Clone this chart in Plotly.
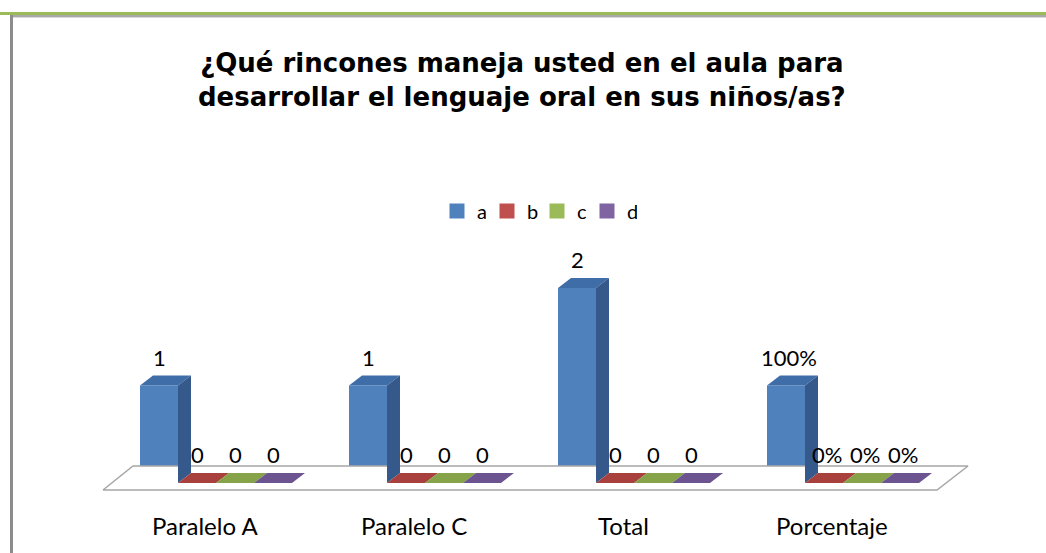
import plotly.graph_objects as go

# ---------------- data ----------------
categories = ["Paralelo A", "Paralelo C", "Total", "Porcentaje"]
series_names = ["a", "b", "c", "d"]
a_values = [1, 1, 2, 1]
b_values = [0, 0, 0, 0]
c_values = [0, 0, 0, 0]
d_values = [0, 0, 0, 0]
percent_category = "Porcentaje"

series_values = [a_values, b_values, c_values, d_values]

# ---------------- style ----------------
front_colors = ["#4F81BD", "#C0504D", "#9BBB59", "#8064A2"]
top_colors = ["#3E6DA8", "#A8403D", "#86A34A", "#6B5490"]
side_colors = ["#34598A", "#8E3533", "#708A3D", "#5A4679"]

W_PX, H_PX = 1046, 553
GROUP_PX = 209.0     # px per category
X0_PX = 140.0        # px of first bar's left edge
UNIT_PX = 97.5       # px per value unit
Y0_PX = 483.0        # px (from top) of value 0
BAR_W = 38.0 / GROUP_PX
DX = 13.0 / GROUP_PX
DY = 10.0 / UNIT_PX

LABEL_FONT = "Lato, 'Open Sans', sans-serif"
TITLE_FONT = "'DejaVu Sans', 'Liberation Sans', Arial, sans-serif"

fig = go.Figure()

# floor of the 3D plot area
floor_x = [-37.0 / GROUP_PX, 797.0 / GROUP_PX, 828.0 / GROUP_PX, -7.0 / GROUP_PX]
floor_y = [-7.0 / UNIT_PX, -7.0 / UNIT_PX, 17.0 / UNIT_PX, 17.0 / UNIT_PX]
fig.add_trace(go.Scatter(
    x=floor_x + [floor_x[0]], y=floor_y + [floor_y[0]], mode="lines",
    fill="toself", fillcolor="white", line=dict(color="#A6A6A6", width=1.5),
    hoverinfo="skip", showlegend=False))

annotations = []
for j, (name, vals) in enumerate(zip(series_names, series_values)):
    idx = list(range(len(categories)))
    # front faces as real bars
    fig.add_trace(go.Bar(
        x=idx, y=vals, width=BAR_W, offset=j * BAR_W, name=name,
        marker=dict(color=front_colors[j], line=dict(width=0)),
        showlegend=False, hoverinfo="skip"))
    for i, v in enumerate(vals):
        x0 = i + j * BAR_W
        x1 = x0 + BAR_W
        # top face
        fig.add_trace(go.Scatter(
            x=[x0, x1, x1 + DX, x0 + DX, x0], y=[v, v, v + DY, v + DY, v],
            mode="lines", fill="toself", fillcolor=top_colors[j],
            line=dict(width=0, color=top_colors[j]), hoverinfo="skip", showlegend=False))
        # side face
        if v > 0:
            fig.add_trace(go.Scatter(
                x=[x1, x1 + DX, x1 + DX, x1, x1], y=[0, DY, v + DY, v, 0],
                mode="lines", fill="toself", fillcolor=side_colors[j],
                line=dict(width=0, color=side_colors[j]), hoverinfo="skip", showlegend=False))
        txt = f"{v:.0%}" if categories[i] == percent_category else f"{v:g}"
        annotations.append(dict(
            x=x0 + BAR_W / 2 + (3.0 / GROUP_PX if categories[i] == percent_category else 0),
            y=v + DY, xref="x", yref="y", text=txt,
            showarrow=False, yanchor="bottom", yshift=3,
            font=dict(family=LABEL_FONT, size=22, color="black")))
    # legend entry
    fig.add_trace(go.Scatter(
        x=[None], y=[None], mode="markers", name=name,
        marker=dict(symbol="square", size=15, color=front_colors[j]),
        hoverinfo="skip"))

# category labels
for i, c in enumerate(categories):
    annotations.append(dict(
        x=i + 65.0 / GROUP_PX, y=1 - 525.0 / H_PX, xref="x", yref="paper",
        text=c, showarrow=False, yanchor="middle",
        font=dict(family=LABEL_FONT, size=24, color="black")))

# title
annotations.append(dict(
    x=522.0 / W_PX, y=1 - 80.0 / H_PX, xref="paper", yref="paper",
    text="<b>¿Qué rincones maneja usted en el aula para<br>desarrollar el lenguaje oral en sus niños/as?</b>",
    showarrow=False, xanchor="center", yanchor="middle",
    font=dict(family=TITLE_FONT, size=26, color="black")))

shapes = [
    # top green rule
    dict(type="line", xref="paper", yref="paper", x0=0, x1=1,
         y0=1 - 13.5 / H_PX, y1=1 - 13.5 / H_PX, line=dict(color="#9BBB59", width=3)),
    dict(type="line", xref="paper", yref="paper", x0=10 / W_PX, x1=1,
         y0=1 - 16 / H_PX, y1=1 - 16 / H_PX, line=dict(color="#8C8C8C", width=1.5)),
    dict(type="line", xref="paper", yref="paper", x0=10 / W_PX, x1=1,
         y0=1 - 17.5 / H_PX, y1=1 - 17.5 / H_PX, line=dict(color="#D9D9D9", width=1)),
    # left gray rule
    dict(type="line", xref="paper", yref="paper", x0=11.5 / W_PX, x1=11.5 / W_PX,
         y0=0, y1=1 - 15 / H_PX, line=dict(color="#8C8C8C", width=3)),
]

fig.update_layout(
    width=W_PX, height=H_PX, autosize=False,
    margin=dict(l=0, r=0, t=0, b=0),
    paper_bgcolor="white", plot_bgcolor="white",
    barmode="overlay",
    xaxis=dict(range=[-X0_PX / GROUP_PX, (W_PX - X0_PX) / GROUP_PX], visible=False, fixedrange=True),
    yaxis=dict(range=[(Y0_PX - H_PX) / UNIT_PX, Y0_PX / UNIT_PX], visible=False, fixedrange=True),
    showlegend=True,
    legend=dict(orientation="h", x=437.0 / W_PX, xanchor="left", y=1 - 211.0 / H_PX, yanchor="middle",
                entrywidth=5, entrywidthmode="pixels",
                font=dict(family=LABEL_FONT, size=20, color="black"),
                bgcolor="rgba(0,0,0,0)", itemclick=False, itemdoubleclick=False),
    annotations=annotations, shapes=shapes,
)

fig.write_html("out.html", config={"displayModeBar": False},
               post_script="document.body.style.margin='0';document.body.style.overflow='hidden';")
